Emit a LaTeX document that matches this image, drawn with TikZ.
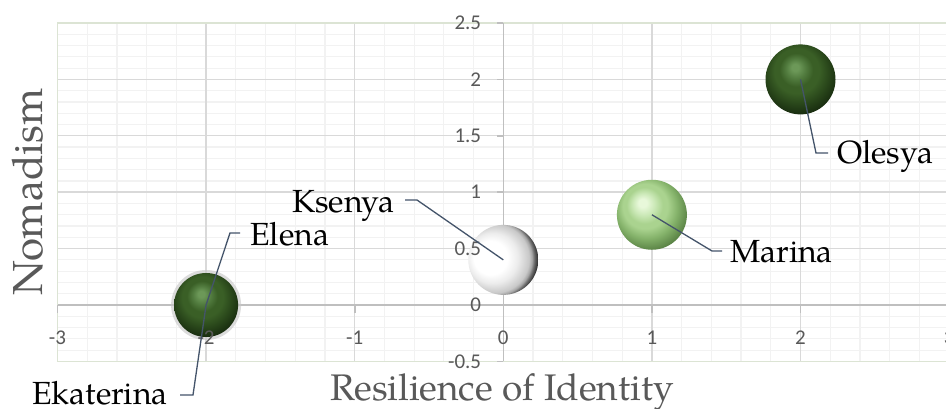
\documentclass[tikz,border=0pt]{standalone}
\usepackage{fontspec}
\setmainfont{TeX Gyre Pagella}
\newfontfamily\tickfont{Carlito}
\definecolor{minorc}{HTML}{F2F2F2}
\definecolor{majorc}{HTML}{D9D9D9}
\definecolor{borderc}{HTML}{DCE4D4}
\definecolor{axisc}{HTML}{BFBFBF}
\definecolor{textg}{HTML}{595959}
\definecolor{leaderc}{HTML}{44546A}
\definecolor{dgH}{RGB}{108,152,88}
\definecolor{dgM}{RGB}{82,124,63}
\definecolor{dgB}{RGB}{58,95,38}
\definecolor{dgD}{RGB}{42,72,27}
\definecolor{dgE}{RGB}{24,44,15}
\definecolor{lgH}{RGB}{232,248,218}
\definecolor{lgM}{RGB}{202,232,182}
\definecolor{lgB}{RGB}{170,211,143}
\definecolor{lgD}{RGB}{132,178,106}
\definecolor{lgE}{RGB}{85,125,65}
\definecolor{wA}{RGB}{255,255,255}
\definecolor{wB}{RGB}{236,236,236}
\definecolor{wC}{RGB}{200,200,200}
\definecolor{wD}{RGB}{165,165,165}
\definecolor{wF}{RGB}{105,105,105}
\definecolor{wE}{RGB}{50,50,50}
\pgfdeclareradialshading{dkball}{\pgfpoint{-4bp}{9bp}}{color(0bp)=(dgH); color(2.5bp)=(dgH); color(7bp)=(dgM); color(12bp)=(dgB); color(16bp)=(dgB); color(22bp)=(dgD); color(29bp)=(dgE); color(50bp)=(dgE)}
\pgfdeclareradialshading{ltball}{\pgfpoint{-7bp}{9bp}}{color(0bp)=(lgH); color(3bp)=(lgH); color(8bp)=(lgM); color(13bp)=(lgB); color(16bp)=(lgB); color(22bp)=(lgD); color(30bp)=(lgE); color(50bp)=(lgE)}
\pgfdeclareradialshading{whball}{\pgfpoint{-12bp}{2bp}}{color(0bp)=(wA); color(12bp)=(wA); color(18bp)=(wB); color(24.5bp)=(wC); color(26.2bp)=(wD); color(27.6bp)=(wF); color(29.5bp)=(wE); color(50bp)=(wE)}
\tikzset{
  minorgrid/.style={draw=minorc, line width=1.2pt},
  majorgrid/.style={draw=majorc, line width=1.4pt},
  plotborder/.style={draw=borderc, line width=1.6pt},
  axisline/.style={draw=axisc, line width=1.6pt},
  ticklab/.style={inner sep=0pt, text=textg, font=\tickfont\fontsize{21}{24}\selectfont},
  datalab/.style={inner sep=0pt, text=black, font=\fontsize{32}{36}\selectfont},
  titlelab/.style={inner sep=0pt, text=textg},
  bubble/.style={circle, inner sep=0pt, minimum size=70pt, shade},
  leader/.style={draw=leaderc, line width=1.3pt}
}
\begin{document}
\begin{tikzpicture}[x=1pt,y=-1pt]
\useasboundingbox (0,0) rectangle (946,409);
\clip (0,0) rectangle (946,409);
\fill[white] (0,0) rectangle (946,409);
\begin{scope}[shift={(503.3,305)}, x=148.6pt, y=112.8pt]
  \foreach \i in {-15,...,15} \draw[minorgrid] (\i*0.2,-0.5) -- (\i*0.2,2.5);
  \foreach \j in {-5,...,25} \draw[minorgrid] (-3,\j*0.1) -- (3,\j*0.1);
  \foreach \i in {-3,...,3} \draw[majorgrid] (\i,-0.5) -- (\i,2.5);
  \foreach \j in {-1,...,5} \draw[majorgrid] (-3,\j*0.5) -- (3,\j*0.5);
  \draw[plotborder] (-3,-0.5) rectangle (3,2.5);
  \draw[axisline] (-3,0) -- (3,0);
  \draw[axisline] (0,-0.5) -- (0,2.5);
  \foreach \j in {-1,...,5} \draw[axisline] (0,\j*0.5) -- ++(-6pt,0pt);
  \foreach \i in {-3,...,3} \draw[axisline] (\i,0) -- ++(0pt,-8pt);
  % bubbles
  \node[bubble, shading=dkball] (olesya) at (2,2) {};
  \node[bubble, shading=ltball] (marina) at (1,0.8) {};
  \node[bubble, shading=whball] (ksenya) at (0,0.4) {};
  \node[circle, inner sep=0pt, minimum size=70pt, fill=gray!45, opacity=0.6] (ekaterina) at (-2,0) {};
  \node[bubble, minimum size=64pt, shading=dkball] (elena) at (-2,0) {};
  % tick labels
  \foreach \v/\t [count=\k] in {-0.5/-0.5, 0/0, 0.5/0.5, 1/1, 1.5/1.5, 2/2, 2.5/2.5}
    \node[ticklab, anchor=east] (yl\k) at ([xshift=-22pt]0,\v) {\t};
  \foreach \i [count=\k] in {-3,...,3}
    \node[ticklab] (xl\k) at ([yshift=-33pt]\i,0) {\i};
\end{scope}
% data labels
\node[datalab, anchor=base west] (lmarina) at (730,262) {Marina};
\node[datalab, anchor=base west] (lolesya) at (837,164) {Olesya};
\node[datalab, anchor=base west] (lelena) at (250,245) {Elena};
\node[datalab, anchor=base east] (lksenya) at (395,212) {Ksenya};
\node[datalab, anchor=base east] (lekat) at (168,404) {Ekaterina};
% leader end points
\coordinate (mb) at (712,251); \coordinate (me) at (722,251);
\coordinate (ob) at (816,153); \coordinate (oe) at (828,153);
\coordinate (kb) at (417,200); \coordinate (ke) at (405,200);
\coordinate (eb) at (230,233); \coordinate (ee) at (240,233);
\coordinate (ab) at (193,395); \coordinate (ae) at (180,395);
\draw[leader] (marina.center) -- (mb) -- (me);
\draw[leader] (olesya.center) -- (ob) -- (oe);
\draw[leader] (ksenya.center) -- (kb) -- (ke);
\draw[leader] (elena.center) -- (eb) -- (ee);
\draw[leader] (ekaterina.center) -- (ab) -- (ae);
% axis titles
\node[titlelab, font=\fontsize{42}{46}\selectfont, rotate=90, anchor=base] (ytitle) at (42,192) {Nomadism};
\node[titlelab, font=\fontsize{37}{40}\selectfont, anchor=base] (xtitle) at (502,400) {Resilience of Identity};
\end{tikzpicture}
\end{document}
